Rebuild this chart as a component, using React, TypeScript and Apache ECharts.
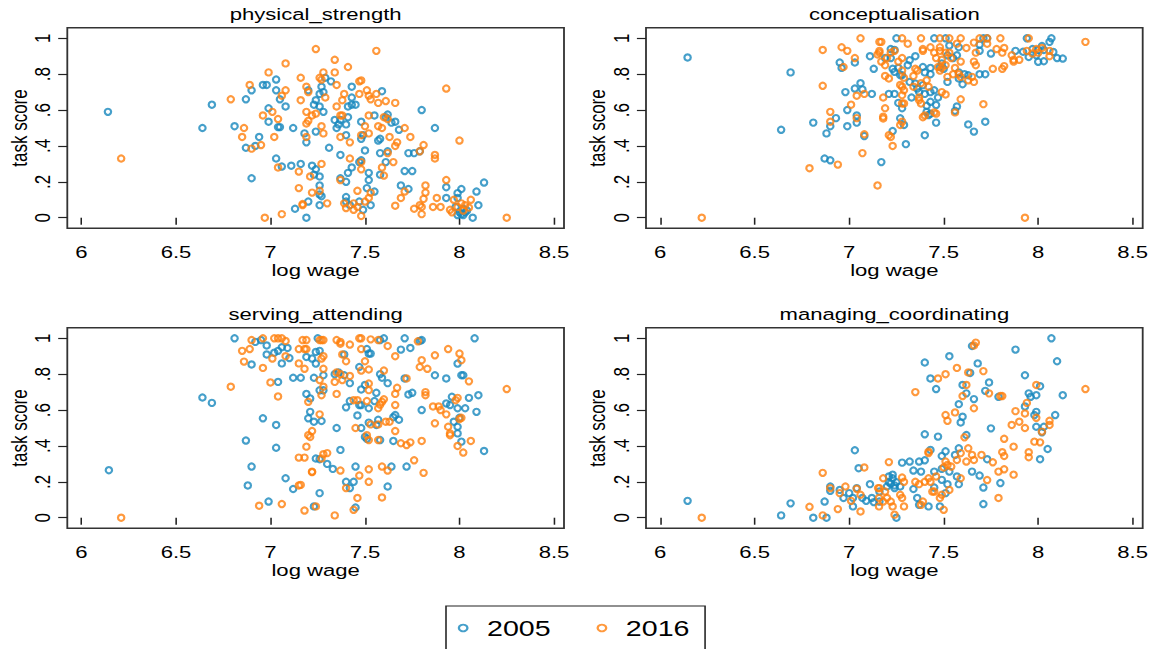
import React, { useEffect, useRef } from "react";
import * as echarts from "echarts";

// horizontal stretch of the reference picture
const S = 1.3;
const W = 1155 / S;
const H = 649;

const panelTitles = ["physical_strength", "conceptualisation", "serving_attending", "managing_coordinating"];
const years = ["2005", "2016"];
const xTicks = [6, 6.5, 7, 7.5, 8, 8.5];
const yTicks = [0, 0.2, 0.4, 0.6, 0.8, 1];
const yTickLabels = ["0", ".2", ".4", ".6", ".8", "1"];
const xName = "log wage";
const yName = "task score";

const physical2005: [number, number][] = [
  [6.14, .59], [6.69, .63], [6.64, .50], [6.81, .51], [6.87, .66], [6.90, .71], [6.96, .74], [6.98, .74], [7.03, .77], [7.03, .71],
  [7.05, .66], [7.08, .62], [6.99, .61], [6.99, .535], [7.04, .505], [7.05, .505], [7.12, .50], [6.94, .45], [6.87, .39], [6.92, .40],
  [7.03, .33], [7.06, .285], [7.11, .29], [6.90, .22], [7.13, .05],
  [7.80, .60], [7.87, .50], [8.13, .196], [8.09, .146], [8.01, .16], [7.93, .17], [7.99, .137], [7.99, .11], [8.10, .07], [8.07, 0],
  [8.01, .02], [8.00, .03], [7.99, .015], [8.02, .015], [8.03, .03], [8.02, .05], [7.98, .06], [8.04, .04], [7.93, .11], [7.73, .16],
  [7.69, .18], [7.71, .26], [7.75, .26], [7.79, .37], [7.76, .36], [7.73, .36], [7.68, .49], [7.66, .535], [7.64, .53], [7.62, .575],
  [7.61, .56], [7.59, .705], [7.55, .57], [7.58, .44], [7.57, .43], [7.58, .36], [7.62, .37], [7.61, .31], [7.58, .24], [7.55, .146],
  [7.52, .21], [7.51, .165], [7.52, .25], [7.47, .31], [7.48, .32], [7.50, .375], [7.48, .44], [7.49, .46], [7.48, .535], [7.45, .63],
  [7.43, .63], [7.41, .62], [7.43, .67], [7.43, .73], [7.41, .56], [7.40, .52], [7.40, .46], [7.37, .545], [7.36, .52], [7.34, .545],
  [7.35, .50], [7.37, .35], [7.31, .39], [7.41, .25], [7.43, .28], [7.40, .20], [7.37, .22], [7.40, .115], [7.40, .09], [7.42, .07],
  [7.47, .09], [7.53, .07], [7.49, .044], [7.27, .73], [7.28, .70], [7.26, .69], [7.24, .655], [7.23, .63], [7.26, .62], [7.28, .59],
  [7.20, .71], [7.18, .47], [7.19, .42], [7.24, .48], [7.16, .30], [7.22, .29], [7.24, .27], [7.23, .24], [7.26, .23], [7.26, .18],
  [7.26, .13], [7.27, .12], [7.26, .07], [7.20, .09], [7.19, 0], [7.29, .78], [7.32, .76],
];
const physical2016: [number, number][] = [
  [6.21, .33], [6.79, .66], [6.89, .74], [6.99, .81], [7.08, .86], [7.08, .71], [7.06, .68], [6.96, .57], [7.01, .59], [7.04, .55],
  [6.86, .50], [6.85, .45], [7.02, .45], [6.90, .385], [6.95, .405], [7.04, .28], [7.15, .257], [6.97, 0], [7.06, .02], [7.17, .076],
  [7.24, .94], [7.56, .93], [7.34, .88], [7.41, .84], [7.28, .81], [7.34, .81], [7.16, .78], [7.26, .78], [7.27, .77], [7.47, .76],
  [7.48, .765], [7.35, .74], [7.19, .73], [7.51, .71], [7.93, .72], [7.20, .70], [7.39, .69], [7.47, .69], [7.52, .68], [7.56, .69],
  [7.53, .66], [7.29, .67], [7.38, .655], [7.61, .65], [7.66, .64], [7.16, .655], [7.35, .62], [7.57, .64], [7.19, .59], [7.24, .58],
  [7.22, .57], [7.37, .57], [7.38, .57], [7.52, .57], [7.60, .56], [7.62, .55], [7.20, .54], [7.19, .525], [7.27, .51], [7.50, .51],
  [7.57, .51], [7.59, .50], [7.71, .50], [7.48, .46], [7.52, .47], [7.28, .47], [7.19, .45], [7.37, .45], [7.63, .45], [7.74, .45],
  [8.00, .43], [7.42, .42], [7.67, .42], [7.66, .40], [7.81, .405], [7.79, .37], [7.87, .35], [7.87, .33], [7.62, .36], [7.42, .33],
  [7.65, .31], [7.48, .31], [7.27, .30], [7.48, .27], [7.59, .28], [7.60, .235], [7.15, .165], [7.37, .21], [7.21, .23], [7.93, .21],
  [7.82, .18], [7.46, .15], [7.53, .14], [7.22, .14], [7.26, .15], [7.82, .14], [7.81, .105], [7.71, .146], [7.88, .11], [7.97, .10],
  [8.01, .08], [7.99, .06], [8.06, .10], [8.05, .057], [8.02, .04], [8.03, .07], [7.66, .067], [7.69, .11], [7.76, .05], [7.79, .07],
  [7.80, .06], [7.80, .02], [7.86, .06], [7.90, .06], [7.95, .044], [7.96, .03], [7.39, .08], [7.40, .054], [7.44, .08], [7.46, .06],
  [7.50, .09], [7.52, .11], [7.30, .08], [7.17, .07], [7.48, .01], [7.44, .044], [8.25, 0],
];

const concept2005: [number, number][] = [
  [6.145, .893], [6.69, .81], [6.64, .49], [6.81, .53], [6.88, .47], [6.90, .51], [6.93, .555], [6.87, .33], [6.90, .32], [6.95, .865],
  [6.96, .835], [7.03, .865], [7.11, .90], [7.13, .83], [6.98, .70], [7.03, .72], [7.06, .75], [7.07, .715], [7.12, .69], [6.99, .60],
  [7.04, .57], [7.04, .53], [6.99, .51], [7.08, .455], [7.17, .31],
  [7.25, 1], [7.45, 1], [7.51, 1], [7.71, 1], [7.73, 1], [7.94, 1], [8.07, 1], [7.22, .94], [7.24, .935], [7.22, .89],
  [7.19, .89], [7.53, .96], [7.58, .95], [7.57, .905], [7.52, .905], [7.55, .89], [7.69, .965], [7.69, .93], [7.75, .915], [7.97, .94],
  [8.00, .935], [8.02, .957], [8.03, .935], [7.99, .905], [7.92, .925], [7.95, .896], [7.88, .93], [8.08, .924], [8.10, .89], [8.13, .887],
  [8.03, .872], [8.00, .869], [8.06, .98], [7.35, .90], [7.32, .878], [7.31, .85], [7.26, .835], [7.28, .794], [7.23, .83], [7.24, .813],
  [7.27, .794], [7.39, .84], [7.40, .81], [7.43, .80], [7.43, .835], [7.49, .86], [7.48, .84], [7.50, .83], [7.58, .81], [7.61, .80],
  [7.63, .794], [7.69, .80], [7.72, .80], [7.52, .757], [7.58, .776], [7.60, .744], [7.32, .757], [7.35, .748], [7.36, .72], [7.39, .739],
  [7.24, .69], [7.21, .69], [7.33, .67], [7.37, .70], [7.40, .69], [7.43, .70], [7.45, .71], [7.47, .67], [7.26, .64], [7.28, .61],
  [7.41, .624], [7.43, .646], [7.46, .628], [7.57, .62], [7.56, .596], [7.43, .58], [7.42, .572], [7.41, .59], [7.27, .554], [7.29, .517],
  [7.46, .53], [7.63, .52], [7.66, .48], [7.72, .535], [7.23, .483], [7.40, .46], [7.30, .41],
];
const concept2016: [number, number][] = [
  [6.22, 0], [6.86, .935], [6.96, .95], [6.99, .93], [7.06, 1.0], [7.03, .89], [6.97, .84], [6.86, .735], [7.01, .63], [7.04, .555],
  [6.90, .59], [6.90, .535], [7.04, .68], [7.08, .69], [7.08, .465], [6.79, .276], [6.94, .296], [7.07, .36], [7.15, .18], [7.16, .98],
  [7.16, .93], [7.15, .91],
  [8.25, .98], [7.93, 0], [7.17, .98], [7.28, 1], [7.38, 1], [7.53, 1], [7.59, 1], [7.69, 1], [7.73, 1], [7.80, 1],
  [7.95, 1], [7.31, .97], [7.48, 1], [7.66, .976], [7.48, .95], [7.43, .95], [7.39, .94], [7.39, .93], [7.45, .92], [7.48, .93],
  [7.51, .92], [7.53, .92], [7.57, .97], [7.62, .946], [7.67, .92], [7.73, .97], [7.78, .94], [7.82, .946], [7.81, .92], [7.86, .905],
  [7.87, .88], [7.90, .88], [7.87, .87], [7.99, .94], [8.02, .946], [8.00, .92], [8.06, .93], [8.06, .90], [7.94, .93], [7.97, .915],
  [7.24, .93], [7.22, .92], [7.16, .92], [7.17, .87], [7.19, .85], [7.20, .89], [7.28, .89], [7.26, .87], [7.28, .82], [7.29, .78],
  [7.19, .79], [7.21, .776], [7.46, .89], [7.49, .88], [7.51, .85], [7.54, .89], [7.59, .87], [7.66, .87], [7.67, .85], [7.56, .835],
  [7.49, .835], [7.47, .84], [7.48, .82], [7.35, .83], [7.36, .82], [7.34, .79], [7.76, .83], [7.81, .83], [7.82, .845], [7.58, .80],
  [7.59, .785], [7.55, .80], [7.52, .785], [7.65, .785], [7.63, .766], [7.66, .757], [7.38, .75], [7.41, .766], [7.42, .73], [7.34, .73],
  [7.28, .73], [7.27, .74], [7.29, .71], [7.49, .70], [7.51, .687], [7.18, .67], [7.28, .683], [7.28, .637], [7.29, .637], [7.37, .67],
  [7.38, .637], [7.37, .655], [7.19, .61], [7.18, .563], [7.18, .553], [7.59, .66], [7.71, .633], [7.56, .587], [7.39, .56], [7.40, .57],
  [7.45, .587], [7.46, .58], [7.28, .535], [7.27, .517], [7.21, .46], [7.22, .45], [7.23, .40],
];

const serving2005: [number, number][] = [
  [6.145, .265], [6.64, .67], [6.69, .64], [6.81, 1.0], [6.87, .43], [6.88, .18], [6.90, .285], [6.90, .854], [6.96, .554], [7.03, .517],
  [7.03, .39], [7.08, .22], [7.12, .16], [6.99, .09], [6.92, .98], [6.95, .99], [6.98, .96], [6.98, .91], [7.02, .92], [7.04, .93],
  [7.06, .95], [7.09, .946], [7.06, .86], [7.10, .89], [7.04, .757], [7.12, .78], [7.24, .33],
  [8.08, 1.0], [7.71, 1], [7.80, .99], [7.79, .985], [7.25, 1], [7.60, 1], [7.58, .99], [7.74, .946], [7.69, .937], [7.51, .94],
  [7.52, .915], [7.53, .915], [7.39, .91], [7.24, .924], [7.26, .93], [7.22, .887], [7.19, .896], [7.24, .859], [7.99, .859], [8.01, .794],
  [8.02, .794], [7.87, .794], [7.93, .776], [7.71, .776], [7.59, .78], [7.58, .80], [7.36, .81], [7.34, .80], [7.39, .794], [7.42, .75],
  [7.47, .84], [7.23, .78], [7.28, .794], [7.16, .78], [7.62, .75], [7.56, .696], [7.48, .715], [7.50, .74], [7.73, .687], [7.75, .696],
  [7.96, .674], [7.93, .637], [7.95, .628], [8.05, .668], [8.10, .683], [7.99, .61], [8.03, .61], [8.09, .59], [7.80, .60], [8.0, .557],
  [7.97, .535], [7.99, .507], [7.99, .47], [8.01, .424], [8.13, .372], [7.19, .69], [7.21, .665], [7.28, .71], [7.26, .71], [7.40, .615],
  [7.42, .65], [7.47, .628], [7.48, .628], [7.55, .65], [7.52, .61], [7.46, .57], [7.57, .546], [7.65, .56], [7.68, .546], [7.66, .572],
  [7.52, .53], [7.56, .517], [7.48, .50], [7.21, .59], [7.20, .554], [7.23, .535], [7.27, .539], [7.35, .50], [7.50, .45], [7.51, .44],
  [7.58, .433], [7.65, .428], [7.37, .378], [7.26, .326], [7.30, .30], [7.33, .272], [7.45, .285], [7.64, .285], [7.72, .285], [7.40, .20],
  [7.44, .20], [7.42, .165], [7.62, .174], [7.26, .137], [7.23, .063], [7.45, .057],
];
const serving2016: [number, number][] = [
  [6.21, 0], [6.79, .73], [6.85, .93], [6.89, .94], [6.86, .87], [6.90, .99], [6.96, 1.0], [7.02, 1], [7.04, 1], [7.06, 1],
  [7.08, .985], [7.01, .887], [6.96, .835], [7.08, .90], [7.0, .754], [7.04, .676], [6.94, .067], [7.06, .076], [7.15, .18], [7.15, .335],
  [7.15, .86],
  [7.17, .99], [7.19, .99], [7.26, .99], [7.27, .99], [7.28, .99], [7.35, .99], [7.47, 1], [7.48, 1], [7.53, .994], [7.57, .99],
  [7.62, .957], [7.78, .983], [7.15, .94], [7.18, .94], [7.19, .94], [7.37, .98], [7.37, .97], [7.42, .965], [7.48, .94], [7.94, .94],
  [8.0, .915], [7.87, .905], [7.66, .90], [7.27, .887], [7.28, .90], [7.38, .91], [7.40, .872], [7.50, .872], [7.80, .878], [7.79, .84],
  [7.83, .83], [8.01, .878], [7.18, .83], [7.28, .83], [7.48, .82], [7.60, .82], [7.52, .826], [7.35, .81], [7.37, .80], [7.42, .79],
  [7.38, .767], [7.34, .757], [7.72, .776], [8.05, .76], [8.25, .717], [7.26, .767], [7.28, .73], [7.27, .683], [7.52, .748], [7.52, .711],
  [7.35, .69], [7.67, .724], [7.66, .69], [7.82, .70], [7.82, .683], [7.20, .646], [7.44, .655], [7.46, .655], [7.51, .65], [7.60, .66],
  [7.59, .646], [7.58, .63], [7.66, .628], [7.86, .62], [7.89, .62], [7.90, .60], [7.93, .576], [7.99, .668], [7.98, .655], [7.26, .576],
  [7.57, .61], [8.01, .557], [8.0, .55], [7.61, .535], [7.63, .535], [7.53, .52], [7.57, .52], [7.87, .526], [7.94, .507], [7.95, .47],
  [7.95, .46], [7.22, .483], [7.20, .46], [7.19, .396], [7.45, .50], [7.51, .46], [7.52, .433], [7.57, .433], [7.66, .483], [7.69, .415],
  [7.72, .405], [7.74, .42], [7.80, .428], [7.99, .40], [8.02, .363], [8.06, .428], [7.28, .354], [7.30, .36], [7.27, .33], [7.18, .335],
  [7.76, .32], [7.81, .25], [7.22, .257], [7.37, .263], [7.52, .27], [7.59, .285], [7.62, .263], [7.16, .183], [7.47, .235], [7.52, .20],
  [7.40, .165], [7.46, .11], [7.59, .113], [7.44, .044], [7.24, .063], [7.18, .04], [7.34, .013], [7.21, .45], [7.22, .254],
];

const managing2005: [number, number][] = [
  [6.145, .094], [6.64, .013], [6.69, .08], [6.81, 0], [6.88, 0], [6.87, .09], [6.90, .174], [6.90, .15], [6.95, .155], [6.97, .11],
  [7.0, .137], [7.02, .063], [7.04, .165], [7.02, .11], [7.03, .376], [7.05, .276], [7.11, .187], [7.07, .11], [7.09, .094], [7.12, .11],
  [7.13, .087], [7.21, .23], [7.23, .22], [7.22, .19], [7.24, .18],
  [8.07, 1.0], [7.88, .937], [8.10, .872], [7.93, .794], [8.13, .683], [8.09, .572], [7.95, .693], [7.99, .683], [8.01, .733], [7.96, .674],
  [7.93, .62], [7.99, .59], [7.98, .572], [7.99, .507], [8.03, .507], [8.02, .476], [8.05, .383], [8.01, .326], [7.65, .957], [7.68, .86],
  [7.64, .807], [7.53, .90], [7.40, .865], [7.43, .776], [7.46, .717], [7.60, .74], [7.62, .693], [7.66, .661], [7.74, .754], [7.72, .707],
  [7.79, .674], [7.58, .633], [7.60, .563], [7.59, .531], [7.75, .498], [7.40, .465], [7.47, .452], [7.62, .461], [7.43, .378], [7.49, .344],
  [7.51, .37], [7.58, .387], [7.56, .35], [7.28, .307], [7.32, .313], [7.37, .313], [7.40, .32], [7.34, .263], [7.38, .257], [7.45, .257],
  [7.49, .272], [7.53, .257], [7.57, .23], [7.65, .257], [7.69, .235], [7.73, .326], [7.23, .24], [7.21, .198], [7.25, .198], [7.24, .165],
  [7.27, .174], [7.20, .174], [7.45, .168], [7.49, .211], [7.52, .187], [7.58, .187], [7.51, .137], [7.48, .063], [7.42, .063], [7.37, .072],
  [7.36, .11], [7.71, .168], [7.80, .193], [7.71, .076], [7.25, 0], [7.16, .146], [7.16, .09], [7.34, .16],
];
const managing2016: [number, number][] = [
  [6.22, 0], [6.79, .061], [6.86, .013], [6.86, .25], [6.90, .165], [6.95, .137], [6.94, .048], [6.98, .174], [7.04, .161], [7.06, .128],
  [7.06, .035], [7.01, .094], [7.08, .28], [7.153, .165], [7.158, .11], [7.158, .063], [7.18, .22],
  [7.67, .976], [7.66, .96], [8.25, .717], [7.57, .835], [7.51, .80], [7.47, .776], [7.63, .81], [7.71, .817], [7.35, .70], [7.62, .74],
  [7.60, .678], [7.66, .61], [7.74, .693], [7.81, .678], [7.80, .678], [7.51, .572], [7.52, .54], [7.56, .587], [7.99, .74], [7.94, .64],
  [7.88, .594], [7.93, .581], [7.99, .557], [7.86, .517], [7.90, .535], [7.93, .50], [8.06, .54], [8.06, .517], [8.02, .48], [7.98, .424],
  [8.01, .42], [7.61, .448], [7.82, .44], [7.87, .396], [7.81, .365], [7.82, .344], [7.95, .365], [7.95, .337], [7.63, .387], [7.65, .35],
  [7.70, .35], [7.66, .322], [7.62, .313], [7.76, .309], [7.42, .368], [7.42, .36], [7.59, .36], [7.57, .322], [7.51, .313], [7.52, .294],
  [7.50, .28], [7.54, .285], [7.59, .22], [7.79, .257], [7.82, .27], [7.87, .24], [7.73, .21], [7.79, .11], [7.21, .31], [7.16, .165],
  [7.19, .146], [7.28, .224], [7.29, .2], [7.35, .2], [7.37, .187], [7.40, .2], [7.42, .22], [7.43, .2], [7.46, .23], [7.45, .146],
  [7.49, .128], [7.53, .155], [7.27, .128], [7.28, .11], [7.29, .063], [7.23, .063], [7.22, .09], [7.24, .017], [7.38, .072], [7.39, .09],
  [7.48, .11], [7.50, .044], [7.44, .146], [7.18, .09], [7.20, .11],
];

const panelData = [
  [physical2005, physical2016],
  [concept2005, concept2016],
  [serving2005, serving2016],
  [managing2005, managing2016],
];

const BLUE = "#1787bd";
const ORANGE = "#ff7f0c";
const FONT = "'Liberation Sans', Arial, Helvetica, sans-serif";

export default function App() {
  const ref = useRef<HTMLDivElement>(null);
  useEffect(() => {
    if (!ref.current) return;
    const chart = echarts.init(ref.current, null, { renderer: "svg" });
    // panel frames in picture pixels
    const frames = [
      { l: 67.3, t: 27.7 },
      { l: 646, t: 27.7 },
      { l: 67.3, t: 327.7 },
      { l: 646, t: 327.7 },
    ];
    const fw = 496.7;
    const fh = 200.6;
    const grid = frames.map((f) => ({
      left: f.l / S,
      top: f.t,
      width: fw / S,
      height: fh,
      show: true,
      borderColor: "#333",
      borderWidth: 1.4,
      backgroundColor: "#fff",
      containLabel: false,
    }));
    const xAxis = frames.map((_, i) => ({
      type: "value",
      gridIndex: i,
      min: 5.925,
      max: 8.553,
      axisLine: { show: false },
      splitLine: { show: false },
      axisTick: { show: true, length: 7, customValues: xTicks, lineStyle: { color: "#222", width: 1.2 } },
      axisLabel: {
        customValues: xTicks,
        margin: 15,
        fontSize: 17,
        color: "#000",
        fontFamily: FONT,
        formatter: (v: number) => String(v),
      },
      name: xName,
      nameLocation: "middle",
      nameGap: 33,
      nameTextStyle: { fontSize: 17, color: "#000", fontFamily: FONT },
    }));
    const yAxis = frames.map((_, i) => ({
      type: "value",
      gridIndex: i,
      min: -0.059,
      max: 1.059,
      axisLine: { show: false },
      splitLine: { show: false },
      axisTick: { show: true, length: 7, customValues: yTicks, lineStyle: { color: "#222", width: 1.2 } },
      axisLabel: {
        customValues: yTicks,
        rotate: 90,
        margin: 11,
        fontSize: 17,
        color: "#000",
        fontFamily: FONT,
        formatter: (v: number) => {
          const k = yTicks.findIndex((t) => Math.abs(t - v) < 1e-6);
          return k >= 0 ? yTickLabels[k] : "";
        },
      },
      name: yName,
      nameLocation: "middle",
      nameGap: 28,
      nameTextStyle: { fontSize: 17, color: "#000", fontFamily: FONT },
    }));
    const series: any[] = [];
    panelData.forEach((pair, i) => {
      pair.forEach((pts, k) => {
        const c = k === 0 ? BLUE : ORANGE;
        series.push({
          type: "scatter",
          name: years[k],
          xAxisIndex: i,
          yAxisIndex: i,
          data: pts,
          symbol: "circle",
          symbolSize: [4.9, 6.2],
          itemStyle: { color: "rgba(0,0,0,0)", borderColor: c, borderWidth: 1.9 },
          emphasis: { disabled: true },
          z: 2 + k,
        });
      });
    });
    const titles = frames.map((f, i) => ({
      type: "text",
      x: (f.l + fw / 2) / S,
      y: f.t - 13.7,
      style: {
        text: panelTitles[i],
        fill: "#000",
        fontSize: 17,
        fontFamily: FONT,
        textAlign: "center",
        textVerticalAlign: "middle",
        verticalAlign: "middle",
      },
    }));
    chart.setOption({
      animation: false,
      backgroundColor: "#fff",
      textStyle: { fontFamily: FONT },
      grid,
      xAxis,
      yAxis,
      series,
      graphic: titles,
      legend: {
        data: years,
        left: 446 / S,
        top: 606,
        orient: "horizontal",
        padding: [9, 12, 9, 9],
        itemGap: 35.2,
        itemWidth: 6.6,
        itemHeight: 6.6,
        icon: "circle",
        borderColor: "#222",
        borderWidth: 1.2,
        itemStyle: { color: "rgba(0,0,0,0)", borderWidth: 1.8 },
        textStyle: { fontSize: 22, color: "#000", fontFamily: FONT, lineHeight: 26, padding: [0, 0, 0, 10.1] },
        selectedMode: false,
      },
    });
    return () => chart.dispose();
  }, []);
  return (
    <div
      ref={ref}
      style={{
        position: "fixed",
        left: 0,
        top: 0,
        width: W,
        height: H,
        transform: `scaleX(${S})`,
        transformOrigin: "0 0",
        background: "#fff",
      }}
    />
  );
}
